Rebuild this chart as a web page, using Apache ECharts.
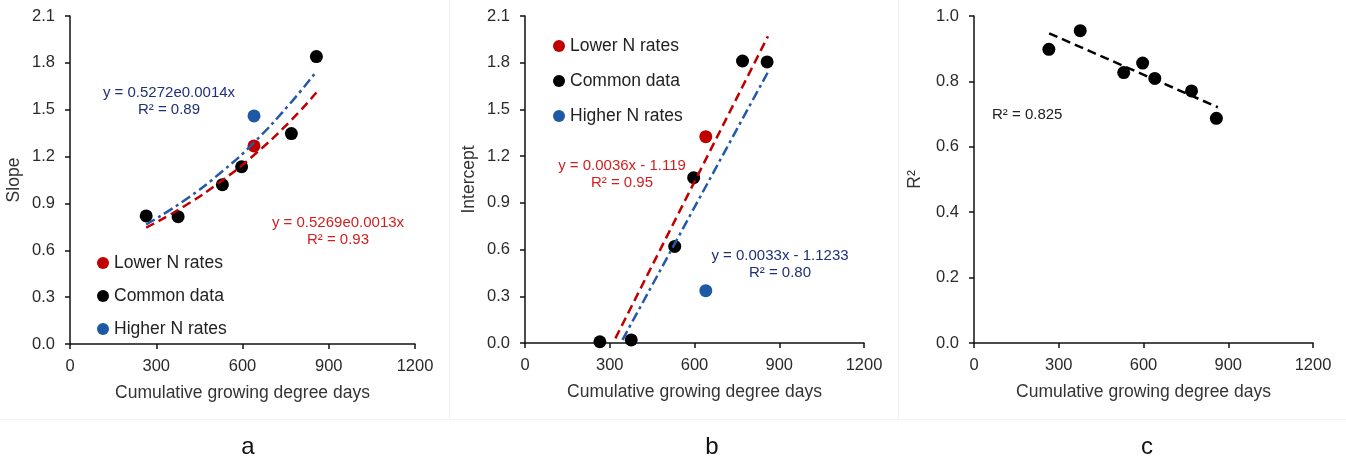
<!DOCTYPE html>
<html><head><meta charset="utf-8">
<script src="https://cdn.jsdelivr.net/npm/echarts@6/dist/echarts.min.js"></script>
<style>html,body{margin:0;padding:0;background:#fff}#c{width:1346px;height:462px}</style>
</head><body><div id="c"></div>
<script>
// ---- data ----
const gddCommon = [265, 376, 530, 597, 770, 857];
const gddN = 640;
// panel a: slope
const slopeCommon = [0.82, 0.815, 1.02, 1.135, 1.347, 1.84];
const slopeLower = [1.268];
const slopeHigher = [1.46];
const slopeTrendX = [265, 400, 530, 640, 760, 857];
const slopeTrendLower = [0.745, 0.885, 1.048, 1.21, 1.415, 1.61];
const slopeTrendHigher = [0.765, 0.922, 1.106, 1.29, 1.528, 1.745];
// panel b: intercept
const interceptCommon = [0.008, 0.02, 0.62, 1.062, 1.811, 1.805];
const interceptLower = [1.325];
const interceptHigher = [0.336];
const interceptTrendLowerX = [320, 860];
const interceptTrendLower = [0.03, 1.97];
const interceptTrendHigherX = [345, 860];
const interceptTrendHigher = [0.02, 1.74];
// panel c: R2
const r2X = [265, 376, 530, 597, 640, 770, 858];
const r2Values = [0.898, 0.955, 0.827, 0.856, 0.809, 0.771, 0.687];
const r2TrendX = [266, 863];
const r2Trend = [0.947, 0.721];
// tick / text
const xTicks = [0, 300, 600, 900, 1200];
const legendNames = ['Lower N rates', 'Common data', 'Higher N rates'];
const panelLetters = ['a', 'b', 'c'];

const zip = (xs, ys) => xs.map((x, i) => [x, ys[i]]);
const FONT = '"Liberation Sans", Arial, sans-serif';
const RED = '#C00000', BLUE = '#1D5AA3', BLUE_LINE = '#2458A8', NAVY = '#1F3078', RED_TXT = '#D11F1F';

const grids = [
  {left: 70, top: 16, width: 345, height: 328},
  {left: 525, top: 16, width: 339, height: 327},
  {left: 974, top: 16, width: 339, height: 327}
];
function xAx(i) {
  return {type: 'value', gridIndex: i, min: xTicks[0], max: xTicks[xTicks.length - 1], interval: 300,
    name: 'Cumulative growing degree days', nameLocation: 'middle', nameGap: 40,
    nameTextStyle: {fontSize: 17.5, color: '#333', fontFamily: FONT},
    axisLine: {show: true, onZero: false, lineStyle: {color: '#111', width: 1.5}},
    axisTick: {show: true, length: 5, lineStyle: {color: '#111', width: 1.5}},
    axisLabel: {fontSize: 16.5, color: '#2a2a2a', fontFamily: FONT, margin: 14, formatter: v => String(v)},
    splitLine: {show: false}};
}
function yAx(i, name, max, interval, gap) {
  return {type: 'value', gridIndex: i, min: 0, max: max, interval: interval,
    name: name, nameLocation: 'middle', nameGap: gap, nameRotate: 90,
    nameTextStyle: {fontSize: 17.5, color: '#333', fontFamily: FONT},
    axisLine: {show: true, lineStyle: {color: '#111', width: 1.5}},
    axisTick: {show: true, length: 5, lineStyle: {color: '#111', width: 1.5}},
    axisLabel: {fontSize: 16.5, color: '#2a2a2a', fontFamily: FONT, margin: 15, formatter: v => v.toFixed(1)},
    splitLine: {show: false}};
}
const dash = [9, 5];
const dashDot = [10, 4, 3, 4];
function scatter(name, i, data, color) {
  return {type: 'scatter', name: name, xAxisIndex: i, yAxisIndex: i, data: data,
    symbolSize: 13, itemStyle: {color: color, opacity: 1}, z: 2, silent: true};
}
function trend(name, i, data, color, type, smooth) {
  return {type: 'line', name: name + ' trend', xAxisIndex: i, yAxisIndex: i, data: data,
    showSymbol: false, smooth: smooth, lineStyle: {color: color, width: 2.5, type: type},
    z: 3, silent: true};
}
function txt(x, y, text, color, align) {
  return {type: 'text', x: x, y: y, silent: true,
    style: {text: text, fill: color, font: '15px ' + FONT, align: align || 'center', verticalAlign: 'middle'}};
}
const legendCommon = {orient: 'vertical', icon: 'circle', itemWidth: 12, itemHeight: 12, data: legendNames,
  textStyle: {fontSize: 17.5, color: '#222', fontFamily: FONT}, selectedMode: false};

const option = {
  animation: false,
  backgroundColor: '#fff',
  grid: grids,
  xAxis: [xAx(0), xAx(1), xAx(2)],
  yAxis: [yAx(0, 'Slope', 2.1, 0.3, 47), yAx(1, 'Intercept', 2.1, 0.3, 47), yAx(2, 'R²', 1.0, 0.2, 50)],
  legend: [
    Object.assign({left: 92, top: 249, itemGap: 15}, legendCommon),
    Object.assign({left: 548, top: 32, itemGap: 17}, legendCommon)
  ],
  series: [
    scatter('Common data', 0, gddCommon.map((x, k) => [x, slopeCommon[k]]), '#000'),
    scatter('Lower N rates', 0, [[gddN, slopeLower[0]]], RED),
    scatter('Higher N rates', 0, [[gddN, slopeHigher[0]]], BLUE),
    trend('Lower N rates', 0, zip(slopeTrendX, slopeTrendLower), RED, dash, true),
    trend('Higher N rates', 0, zip(slopeTrendX, slopeTrendHigher), BLUE_LINE, dashDot, true),

    scatter('Common data', 1, zip(gddCommon, interceptCommon), '#000'),
    scatter('Lower N rates', 1, [[gddN, interceptLower[0]]], RED),
    scatter('Higher N rates', 1, [[gddN, interceptHigher[0]]], BLUE),
    trend('Lower N rates', 1, zip(interceptTrendLowerX, interceptTrendLower), RED, dash, false),
    trend('Higher N rates', 1, zip(interceptTrendHigherX, interceptTrendHigher), BLUE_LINE, dashDot, false),

    scatter('R2 data', 2, zip(r2X, r2Values), '#000'),
    trend('R2', 2, zip(r2TrendX, r2Trend), '#000', dash, false)
  ],
  graphic: [
    {type: 'line', shape: {x1: 449.5, y1: 0, x2: 449.5, y2: 419}, style: {stroke: '#f1f1f1', lineWidth: 1}, silent: true, z: -1},
    {type: 'line', shape: {x1: 898.5, y1: 0, x2: 898.5, y2: 419}, style: {stroke: '#f1f1f1', lineWidth: 1}, silent: true, z: -1},
    {type: 'line', shape: {x1: 0, y1: 419.5, x2: 1346, y2: 419.5}, style: {stroke: '#f1f1f1', lineWidth: 1}, silent: true, z: -1},
    txt(169, 93, 'y = 0.5272e0.0014x', NAVY),
    txt(169, 110, 'R² = 0.89', NAVY),
    txt(338, 223, 'y = 0.5269e0.0013x', RED_TXT),
    txt(338, 240, 'R² = 0.93', RED_TXT),
    txt(622, 166, 'y = 0.0036x - 1.119', RED_TXT),
    txt(622, 183, 'R² = 0.95', RED_TXT),
    txt(780, 256, 'y = 0.0033x - 1.1233', NAVY),
    txt(780, 273, 'R² = 0.80', NAVY),
    txt(992, 115, 'R² = 0.825', '#222', 'left'),
    {type: 'text', x: 248, y: 447, style: {text: panelLetters[0], font: '24px ' + FONT, fill: '#111', align: 'center', verticalAlign: 'middle'}},
    {type: 'text', x: 712, y: 447, style: {text: panelLetters[1], font: '24px ' + FONT, fill: '#111', align: 'center', verticalAlign: 'middle'}},
    {type: 'text', x: 1147, y: 447, style: {text: panelLetters[2], font: '24px ' + FONT, fill: '#111', align: 'center', verticalAlign: 'middle'}}
  ]
};
const chart = echarts.init(document.getElementById('c'), null, {renderer: 'canvas'});
chart.setOption(option);
</script></body></html>
